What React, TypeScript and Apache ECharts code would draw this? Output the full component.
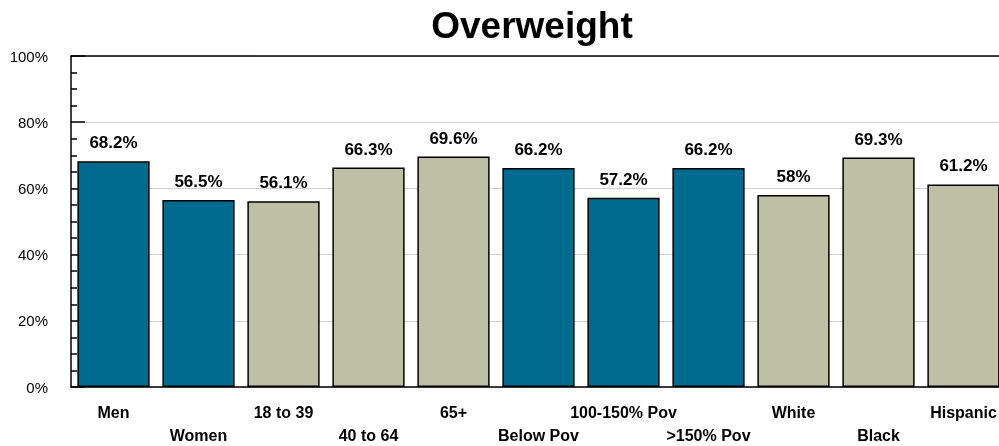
import React, { useEffect, useRef } from "react";
import * as echarts from "echarts";

const categories = ["Men", "Women", "18 to 39", "40 to 64", "65+", "Below Pov", "100-150% Pov", ">150% Pov", "White", "Black", "Hispanic"];
const values = [68.2, 56.5, 56.1, 66.3, 69.6, 66.2, 57.2, 66.2, 58, 69.3, 61.2];
const groups = ["sex", "sex", "age", "age", "age", "pov", "pov", "pov", "race", "race", "race"];
const groupColors: Record<string, string> = { sex: "#006B8F", age: "#BFBFA6", pov: "#006B8F", race: "#BFBFA6" };

const FONT = "'Liberation Sans', Arial, Helvetica, sans-serif";

export default function App() {
  const ref = useRef<HTMLDivElement>(null);
  useEffect(() => {
    if (!ref.current) return;
    const chart = echarts.init(ref.current, null, { renderer: "svg" });
    chart.setOption({
      animation: false,
      title: {
        text: "Overweight",
        left: 527,
        textAlign: "center",
        top: 2,
        textStyle: { fontFamily: FONT, fontSize: 37, fontWeight: "bold", color: "#000" },
      },
      grid: { left: 71, top: 56, width: 935, bottom: 59, containLabel: false, outerBoundsMode: "none" },
      xAxis: [
        {
          type: "category",
          data: categories,
          axisLine: { show: true, lineStyle: { color: "#000", width: 1.5 } },
          axisTick: { show: false },
          axisLabel: {
            interval: 0,
            margin: 14,
            fontFamily: FONT,
            fontSize: 16,
            fontWeight: "bold",
            color: "#000",
            lineHeight: 23,
            formatter: (v: string, i: number) => (i % 2 === 1 ? "\n" + v : v),
          },
        },
        {
          type: "category",
          position: "top",
          data: categories,
          axisLine: { show: true, lineStyle: { color: "#000", width: 1.5 } },
          axisTick: { show: false },
          axisLabel: { show: false },
        },
      ],
      yAxis: {
        type: "value",
        min: 0,
        max: 100,
        interval: 20,
        axisLine: { show: true, lineStyle: { color: "#000", width: 1.5 } },
        axisTick: { show: true, inside: true, length: 14, lineStyle: { color: "#000", width: 1.5 } },
        minorTick: { show: true, splitNumber: 4, length: 6, lineStyle: { color: "#000", width: 1.5 } },
        splitLine: { show: true, lineStyle: { color: "#d0d0d0", width: 1 } },
        axisLabel: {
          formatter: "{value}%",
          margin: 23,
          fontFamily: FONT,
          fontSize: 15,
          color: "#000",
        },
      },
      series: [
        {
          type: "bar",
          data: values.map((v, i) => ({ value: v, itemStyle: { color: groupColors[groups[i]] } })),
          barCategoryGap: "15%",
          itemStyle: { borderColor: "#000", borderWidth: 1.5 },
          label: {
            show: true,
            position: "top",
            distance: 10,
            fontFamily: FONT,
            fontSize: 17,
            fontWeight: "bold",
            color: "#000",
            formatter: (p: any) => p.value + "%",
          },
        },
      ],
    });
    return () => chart.dispose();
  }, []);
  return <div ref={ref} style={{ position: "fixed", left: 0, top: 0, width: 999, height: 446 }} />;
}
